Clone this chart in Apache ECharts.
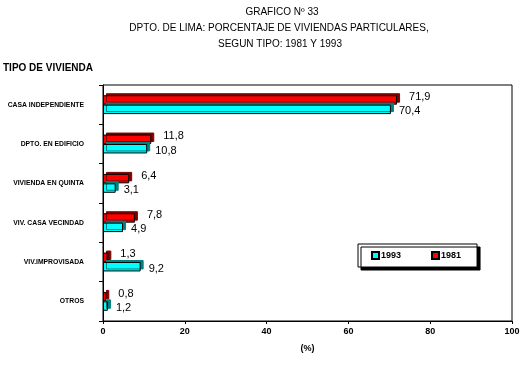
<!DOCTYPE html>
<html>
<head>
<meta charset="utf-8">
<script src="https://cdn.jsdelivr.net/npm/echarts@6/dist/echarts.min.js"></script>
<style>html,body{margin:0;padding:0;background:#fff;}#c{width:530px;height:365px;}</style>
</head>
<body>
<div id="c"></div>
<script>
const categories = ['CASA INDEPENDIENTE', 'DPTO. EN EDIFICIO', 'VIVIENDA EN QUINTA', 'VIV. CASA VECINDAD', 'VIV.IMPROVISADA', 'OTROS'];
const values1981 = [71.9, 11.8, 6.4, 7.8, 1.3, 0.8];
const values1993 = [70.4, 10.8, 3.1, 4.9, 9.2, 1.2];
const xTicks = [0, 20, 40, 60, 80, 100];
const titleLines = ['GRAFICO Nº 33', 'DPTO. DE LIMA: PORCENTAJE DE VIVIENDAS PARTICULARES,', 'SEGUN TIPO: 1981 Y 1993'];

const fmt = p => String(p.value).replace('.', ',');
const chart = echarts.init(document.getElementById('c'), null, {renderer: 'canvas'});
const titleFont = 'Liberation Sans, Arial, sans-serif';
chart.setOption({
  animation: false,
  textStyle: {fontFamily: titleFont},
  graphic: [
    {type: 'text', x: 282, y: 7, style: {text: titleLines[0], fill: '#000', font: '10px ' + titleFont, textAlign: 'center'}},
    {type: 'text', x: 279, y: 23, style: {text: titleLines[1], fill: '#000', font: '10px ' + titleFont, textAlign: 'center'}},
    {type: 'text', x: 280, y: 39, style: {text: titleLines[2], fill: '#000', font: '10px ' + titleFont, textAlign: 'center'}},
    {type: 'text', x: 3, y: 63, style: {text: 'TIPO DE VIVIENDA', fill: '#000', font: 'bold 10px ' + titleFont}}
  ],
  legend: {
    data: ['1993', '1981'],
    left: 358, top: 244,
    width: 140,
    padding: [7, 16, 7, 13],
    itemGap: 30,
    itemWidth: 7, itemHeight: 7,
    icon: 'rect',
    backgroundColor: '#fff',
    borderColor: '#000', borderWidth: 1,
    shadowColor: '#000', shadowBlur: 0, shadowOffsetX: 3, shadowOffsetY: 3,
    textStyle: {fontWeight: 'bold', fontSize: 9, color: '#000', padding: [0, 0, 0, -3]}
  },
  grid: {left: 103, right: 18, top: 85, bottom: 44, show: true, borderColor: '#000', borderWidth: 1, backgroundColor: '#fff', outerBoundsMode: 'none', containLabel: false},
  xAxis: {
    type: 'value', min: 0, max: 100, interval: 20,
    name: '(%)', nameLocation: 'middle', nameGap: 23,
    nameTextStyle: {fontWeight: 'bold', fontSize: 9, color: '#000'},
    axisLine: {show: true, lineStyle: {color: '#000'}},
    axisTick: {show: true, length: 3, lineStyle: {color: '#000'}},
    axisLabel: {fontWeight: 'bold', fontSize: 9, color: '#000', margin: 6,
      formatter: v => xTicks.includes(v) ? String(v) : ''},
    splitLine: {show: false}
  },
  yAxis: {
    type: 'category', data: categories, inverse: true,
    axisLine: {show: true, lineStyle: {color: '#000'}},
    axisTick: {show: true, length: 4, lineStyle: {color: '#000'}},
    axisLabel: {fontWeight: 'bold', fontSize: 6.8, color: '#000', fontFamily: 'Liberation Sans Narrow, Arial Narrow, sans-serif', margin: 19},
    splitLine: {show: false}
  },
  series: [
    {
      name: '1981', type: 'bar', data: values1981,
      barGap: '0%', barCategoryGap: '52%',
      itemStyle: {color: '#ff0000', borderColor: '#000', borderWidth: 1, shadowColor: '#800000', shadowBlur: 0, shadowOffsetX: 3, shadowOffsetY: -2},
      label: {show: true, position: 'right', distance: 12, offset: [0, -3], color: '#000', fontSize: 11, formatter: fmt}
    },
    {
      name: '1993', type: 'bar', data: values1993,
      barGap: '0%', barCategoryGap: '52%',
      itemStyle: {color: '#00ffff', borderColor: '#000', borderWidth: 1, shadowColor: '#008080', shadowBlur: 0, shadowOffsetX: 3, shadowOffsetY: -2},
      label: {show: true, position: 'right', distance: 8, offset: [0, 2], color: '#000', fontSize: 11, formatter: fmt}
    }
  ]
});
</script>
</body>
</html>
